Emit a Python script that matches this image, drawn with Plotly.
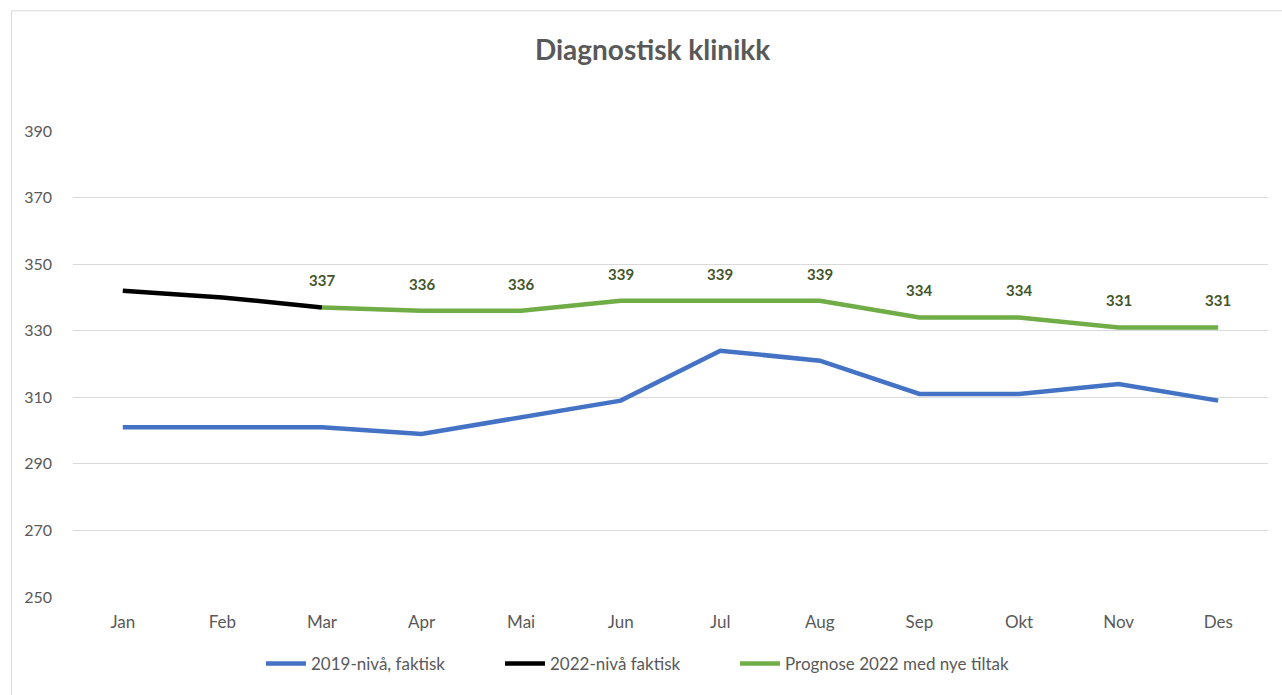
import plotly.graph_objects as go

months = ["Jan", "Feb", "Mar", "Apr", "Mai", "Jun", "Jul", "Aug", "Sep", "Okt", "Nov", "Des"]
niva_2019 = [301, 301, 301, 299, 304, 309, 324, 321, 311, 311, 314, 309]
niva_2022_months = ["Jan", "Feb", "Mar"]
niva_2022 = [342, 340, 337]
prognose_months = ["Mar", "Apr", "Mai", "Jun", "Jul", "Aug", "Sep", "Okt", "Nov", "Des"]
prognose = [337, 336, 336, 339, 339, 339, 334, 334, 331, 331]
y_ticks = [250, 270, 290, 310, 330, 350, 370, 390]

FONT = "Lato"
GRAY = "#595959"

fig = go.Figure()
fig.add_trace(go.Scatter(x=months, y=niva_2019, mode="lines", name="2019-nivå, faktisk",
                         line=dict(color="#4472C4", width=4.5), legend="legend"))
fig.add_trace(go.Scatter(x=niva_2022_months, y=niva_2022, mode="lines", name="2022-nivå faktisk",
                         line=dict(color="#000000", width=4.5), legend="legend2"))
fig.add_trace(go.Scatter(x=prognose_months, y=prognose, mode="lines", name="Prognose 2022 med nye tiltak",
                         line=dict(color="#70AD47", width=4.5), legend="legend3"))

for m, v in zip(prognose_months, prognose):
    fig.add_annotation(x=m, y=v, text=str(v), showarrow=False, yshift=27,
                       font=dict(family=FONT, size=15, color="#44552B", weight="bold"))

legend_common = dict(orientation="h", xanchor="left", y=-0.105, yanchor="top",
                     font=dict(family=FONT, size=17, color=GRAY), itemwidth=40,
                     bgcolor="rgba(0,0,0,0)")

fig.update_layout(
    width=1282, height=695,
    paper_bgcolor="white", plot_bgcolor="white",
    margin=dict(l=73, r=14, t=131, b=98),
    title=dict(text="Diagnostisk klinikk", x=0.509, xanchor="center", y=0.928, yanchor="middle",
               font=dict(family=FONT, size=28, color=GRAY, weight="bold")),
    font=dict(family=FONT, color=GRAY, size=16),
    xaxis=dict(type="category", categoryorder="array", categoryarray=months,
               range=[-0.5, 11.5], showgrid=False, zeroline=False, showline=False,
               ticks="", ticklabelstandoff=13, tickfont=dict(size=17, color=GRAY)),
    yaxis=dict(range=[250, 390], tickvals=y_ticks, showgrid=True, gridcolor="#D9D9D9",
               gridwidth=1, zeroline=False, showline=False, ticks="", ticklabelstandoff=20,
               tickfont=dict(size=16, color=GRAY)),
    legend=dict(x=0.1573, **legend_common),
    legend2=dict(x=0.3573, **legend_common),
    legend3=dict(x=0.554, **legend_common),
    showlegend=True,
)
fig.add_shape(type="rect", xref="paper", yref="paper", x0=-0.0515, x1=1.2, y0=-0.5, y1=1.258,
              line=dict(color="#D9D9D9", width=1), fillcolor="rgba(0,0,0,0)", layer="below")

fig.write_html("out.html")
